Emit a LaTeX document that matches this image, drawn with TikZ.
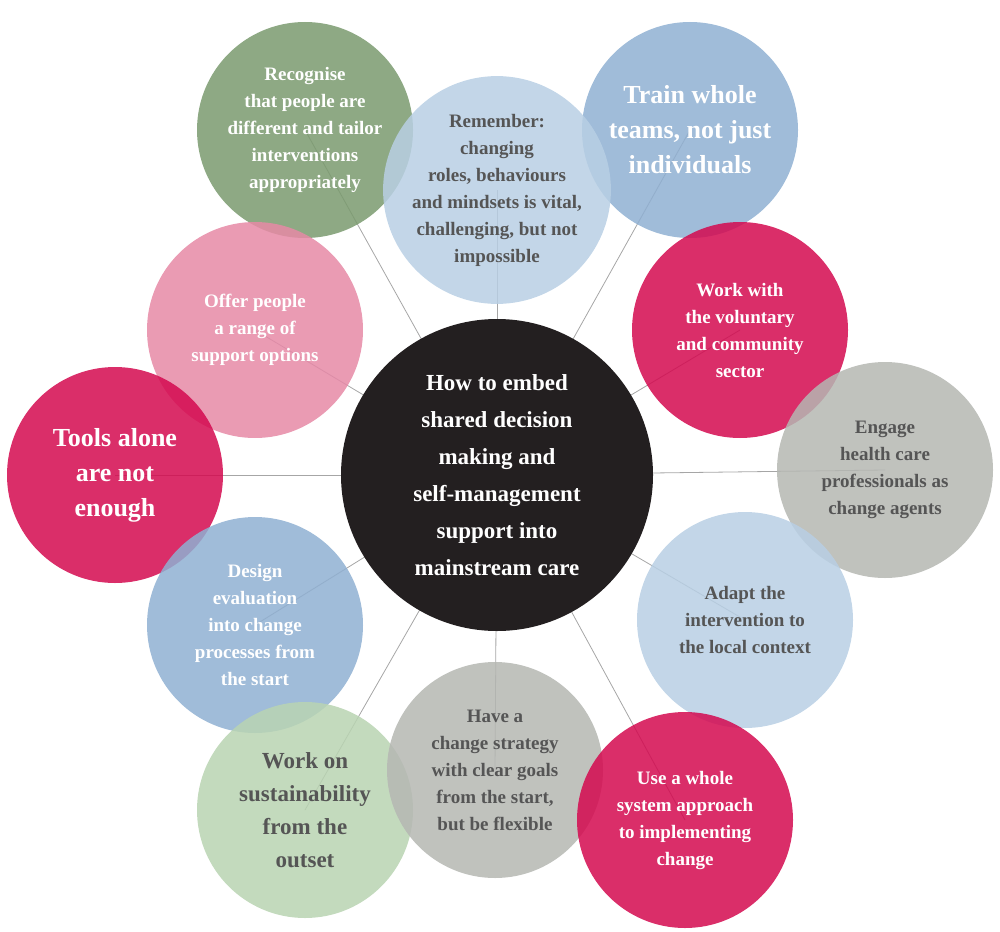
\documentclass[tikz,border=0pt]{standalone}
\usepackage{fontspec}
\setmainfont{Liberation Serif}
\definecolor{cgreen}{HTML}{7A9A6E}
\definecolor{clblue}{HTML}{B8CFE4}
\definecolor{cblue}{HTML}{8FB0D2}
\definecolor{ccrim}{HTML}{D4094F}
\definecolor{cgray}{HTML}{B5B7B2}
\definecolor{clgreen}{HTML}{B9D4B2}
\definecolor{cpink}{HTML}{E689A6}
\definecolor{cblack}{HTML}{231F20}
\definecolor{ctxt}{HTML}{555555}
\begin{document}
\begin{tikzpicture}[x=1pt,y=-1pt,
  bub/.style={circle,minimum size=216pt,inner sep=0pt,fill opacity=0.85,text opacity=1,align=center,font=\fontsize{19}{27}\selectfont\bfseries},
  big/.style={font=\fontsize{26}{35}\selectfont\bfseries},
  spoke/.style={draw=gray!70,line width=0.8pt}]
\useasboundingbox (0,0) rectangle (1000,931);
\coordinate (c) at (497,475);
\foreach \p in {(305,130),(497,190),(690,130),(740,330),(885,470),(745,620),(685,820),(495,770),(305,810),(255,625),(115,475),(255,330)}
  \draw[spoke] (c) -- \p;
\node[bub,fill=cgreen,text=white] (n1) at (305,130) {Recognise\\that people are\\different and tailor\\interventions\\appropriately};
\node[bub,fill=cblue,text=white,big] (n3) at (690,130) {Train whole\\teams, not just\\individuals};
\node[bub,fill=clblue,text=ctxt] (n2) at (497,190) {Remember:\\changing\\roles, behaviours\\and mindsets is vital,\\challenging, but not\\impossible};
\node[bub,fill=cpink,text=white] (n12) at (255,330) {Offer people\\a range of\\support options};
\node[bub,fill=ccrim,text=white] (n4) at (740,330) {Work with\\the voluntary\\and community\\sector};
\node[bub,fill=cgray,text=ctxt] (n5) at (885,470) {Engage\\health care\\professionals as\\change agents};
\node[bub,fill=ccrim,text=white,big] (n11) at (115,475) {Tools alone\\are not\\enough};
\node[bub,fill=cblue,text=white] (n10) at (255,625) {Design\\evaluation\\into change\\processes from\\the start};
\node[bub,fill=clblue,text=ctxt] (n6) at (745,620) {Adapt the\\intervention to\\the local context};
\node[bub,fill=clgreen,text=ctxt,font=\fontsize{23}{33}\selectfont\bfseries] (n9) at (305,810) {Work on\\sustainability\\from the\\outset};
\node[bub,fill=cgray,text=ctxt] (n8) at (495,770) {Have a\\change strategy\\with clear goals\\from the start,\\but be flexible};
\node[bub,fill=ccrim,text=white] (n7) at (685,820) {Use a whole\\system approach\\to implementing\\change};
\node[circle,minimum size=312pt,fill=cblack,text=white,align=center,font=\fontsize{23}{37}\selectfont\bfseries] (ctr) at (c) {How to embed\\shared decision\\making and\\self-management\\support into\\mainstream care};
\end{tikzpicture}
\end{document}
